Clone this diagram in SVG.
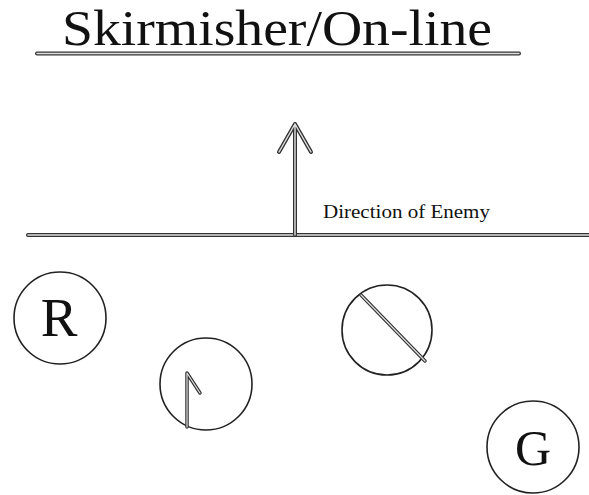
<svg xmlns="http://www.w3.org/2000/svg" width="589" height="495" viewBox="0 0 589 495">
<defs>
<style>
text{font-family:'Liberation Serif','DejaVu Serif',serif;fill:#111}
.node{fill:#fff;stroke:#222;stroke-width:1.6}
.dbo{fill:none;stroke:#333;stroke-width:4;stroke-linecap:round;stroke-linejoin:round}
.dbi{fill:none;stroke:#e0e0e0;stroke-width:1.4;stroke-linecap:round;stroke-linejoin:round}
</style>
</defs>
<rect width="589" height="495" fill="#fff"/>
<g id="title">
<text font-family="Liberation Serif, DejaVu Serif, serif" x="62" y="45" font-size="50" textLength="430" lengthAdjust="spacingAndGlyphs">Skirmisher/On-line</text>
<line class="dbo" x1="37" y1="53.5" x2="519" y2="53.5"/>
<line class="dbi" x1="37" y1="53.5" x2="519" y2="53.5"/>
</g>
<g id="connectors">
<line class="dbo" x1="28" y1="235" x2="589" y2="235"/>
<line class="dbi" x1="28" y1="235" x2="589" y2="235"/>
<path class="dbo" d="M295 235 V124 M279 152 L295 124 L311 152"/>
<path class="dbi" d="M295 235 V124 M279 152 L295 124 L311 152"/>
</g>
<g id="label-direction">
<text font-family="Liberation Serif, DejaVu Serif, serif" x="323" y="218" font-size="19" textLength="167" lengthAdjust="spacingAndGlyphs">Direction of Enemy</text>
</g>
<g id="node-R">
<circle class="node" cx="60" cy="318" r="46"/>
<text font-family="Liberation Serif, DejaVu Serif, serif" x="59" y="336" font-size="55" text-anchor="middle">R</text>
</g>
<g id="node-small-arrow">
<circle class="node" cx="206" cy="384" r="46"/>
<path class="dbo" d="M187 427 V373 L200 393" style="stroke-width:3.5"/>
<path class="dbi" d="M187 427 V373 L200 393" style="stroke-width:1.2"/>
</g>
<g id="node-diagonal">
<circle class="node" cx="387" cy="330" r="45"/>
<line class="dbo" x1="361" y1="295" x2="425" y2="361" style="stroke-width:3.5"/>
<line class="dbi" x1="361" y1="295" x2="425" y2="361" style="stroke-width:1.2"/>
</g>
<g id="node-G">
<circle class="node" cx="533" cy="447" r="46"/>
<text font-family="Liberation Serif, DejaVu Serif, serif" x="533" y="465" font-size="50" text-anchor="middle">G</text>
</g>
</svg>
